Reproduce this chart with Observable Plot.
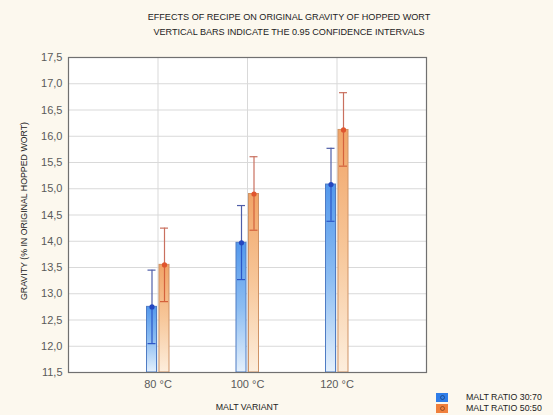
<!DOCTYPE html>
<html>
<head>
<meta charset="utf-8">
<script src="https://cdn.jsdelivr.net/npm/d3@7"></script>
<script src="https://cdn.jsdelivr.net/npm/@observablehq/plot@0.6"></script>
<style>
  html, body { margin: 0; padding: 0; background: #fcf8ee; }
  #wrap { position: relative; width: 553px; height: 415px; font-family: "Liberation Sans", Arial, sans-serif; color: #222; overflow: hidden; }
  .t { position: absolute; white-space: nowrap; }
  .title { left: 289px; transform: translateX(-50%); font-size: 9.1px; }
  .ylab { left: 24px; top: 211px; transform: translate(-50%, -50%) rotate(-90deg); font-size: 8.8px; }
  .xlab { left: 247px; top: 407px; transform: translate(-50%, -50%); font-size: 8.8px; }
  .leg { position: absolute; left: 436px; font-size: 8.8px; display: flex; align-items: center; }
  .sw { width: 12px; height: 9px; margin-right: 18px; position: relative; }
  .sw::after { content: ""; position: absolute; left: 4px; top: 2.5px; width: 3px; height: 3px; border-radius: 50%; border: 1px solid rgba(0,0,0,0.35); }
</style>
</head>
<body>
<div id="wrap"></div>
<script>
const variants = ["80 °C", "100 °C", "120 °C"];
const seriesNames = ["MALT RATIO 30:70", "MALT RATIO 50:50"];
const mean3070 = [12.75, 13.97, 15.08];
const lo3070   = [12.05, 13.27, 14.38];
const hi3070   = [13.45, 14.68, 15.77];
const mean5050 = [13.55, 14.90, 16.12];
const lo5050   = [12.85, 14.21, 15.43];
const hi5050   = [14.25, 15.61, 16.83];
const yTicks = [11.5, 12, 12.5, 13, 13.5, 14, 14.5, 15, 15.5, 16, 16.5, 17, 17.5];

const rows = [];
variants.forEach((v, i) => {
  rows.push({variant: v, idx: i + 1, s: 0, mean: mean3070[i], lo: lo3070[i], hi: hi3070[i]});
  rows.push({variant: v, idx: i + 1, s: 1, mean: mean5050[i], lo: lo5050[i], hi: hi5050[i]});
});
const A = rows.filter(d => d.s === 0), B = rows.filter(d => d.s === 1);

const W = 553, H = 415, mL = 68, mR = 127, mT = 57, mB = 43;
const ppu = (W - mL - mR) / 4; // px per x unit
const u = p => p / ppu;
const off = [-6, 6.5];   // bar centre offsets (px)
const halfW = 5, cap = 4;

const NS = "http://www.w3.org/2000/svg";
function defs() {
  const g = document.createElementNS(NS, "defs");
  const mk = (id, stops) => {
    const lg = document.createElementNS(NS, "linearGradient");
    lg.setAttribute("id", id); lg.setAttribute("x1", "0"); lg.setAttribute("y1", "0");
    lg.setAttribute("x2", "0"); lg.setAttribute("y2", "1");
    stops.forEach(([o, c]) => {
      const s = document.createElementNS(NS, "stop");
      s.setAttribute("offset", o); s.setAttribute("stop-color", c);
      lg.appendChild(s);
    });
    g.appendChild(lg);
  };
  mk("gBlue", [["0", "#5398ec"], ["0.5", "#8cbdf2"], ["1", "#e4f0fc"]]);
  mk("gOrange", [["0", "#f1a467"], ["0.5", "#f7c79a"], ["1", "#fdeedd"]]);
  return g;
}

const errColor = ["#4f5ea8", "#c9705f"];
const midColor = ["#2c56c8", "#d4623c"];
const dotColor = ["#2446c0", "#e0552e"];
const strokeColor = ["#4f7cc4", "#cf9366"];
const grads = ["url(#gBlue)", "url(#gOrange)"];

function seriesMarks(data, s) {
  return [
    Plot.rectY(data, {x1: d => d.idx + u(off[s] - halfW), x2: d => d.idx + u(off[s] + halfW), y1: 11.5, y2: "mean", fill: grads[s], stroke: strokeColor[s], strokeWidth: 1}),
    Plot.ruleX(data, {x: "idx", dx: off[s], y1: "mean", y2: "hi", stroke: errColor[s], strokeWidth: 1.2}),
    Plot.ruleX(data, {x: "idx", dx: off[s], y1: "lo", y2: "mean", stroke: midColor[s], strokeWidth: 1.2}),
    Plot.ruleY(data, {y: "hi", x1: d => d.idx + u(off[s] - cap), x2: d => d.idx + u(off[s] + cap), stroke: errColor[s], strokeWidth: 1.2}),
    Plot.ruleY(data, {y: "lo", x1: d => d.idx + u(off[s] - cap), x2: d => d.idx + u(off[s] + cap), stroke: midColor[s], strokeWidth: 1.2}),
    Plot.dot(data, {x: "idx", dx: off[s], y: "mean", r: 2.6, fill: dotColor[s], stroke: "none"})
  ];
}

const chart = Plot.plot({
  width: W, height: H,
  marginLeft: mL, marginRight: mR, marginTop: mT, marginBottom: mB,
  style: {background: "transparent", fontFamily: "'Liberation Sans', Arial, sans-serif"},
  x: {domain: [0, 4], label: null},
  y: {domain: [11.5, 17.5], label: null},
  marks: [
    defs,
    Plot.frame({fill: "white", stroke: "none"}),
    Plot.gridY(yTicks.slice(1, -1), {stroke: "#d9d9d9", strokeOpacity: 1}),
    Plot.gridX([1, 2, 3], {stroke: "#d9d9d9", strokeOpacity: 1}),
    ...seriesMarks(A, 0),
    ...seriesMarks(B, 1),
    Plot.frame({stroke: "#707070", strokeWidth: 1.2}),
    Plot.axisY({ticks: yTicks, tickSize: 0, tickPadding: 6, fontSize: 11, fill: "#5a5a5a", tickFormat: d => d.toFixed(1).replace(".", ","), label: null}),
    Plot.axisX({ticks: [1, 2, 3], tickSize: 0, tickPadding: 8, fontSize: 11, fill: "#5a5a5a", tickFormat: d => variants[d - 1], label: null})
  ]
});

const wrap = document.getElementById("wrap");
wrap.appendChild(chart);
chart.style.position = "absolute"; chart.style.left = "0"; chart.style.top = "0";

function addText(cls, txt, top) {
  const d = document.createElement("div");
  d.className = "t " + cls; d.textContent = txt;
  if (top != null) d.style.top = top + "px";
  wrap.appendChild(d);
}
addText("title", "EFFECTS OF RECIPE ON ORIGINAL GRAVITY OF HOPPED WORT", 12);
addText("title", "VERTICAL BARS INDICATE THE 0.95 CONFIDENCE INTERVALS", 27);
addText("ylab", "GRAVITY (% IN ORIGINAL HOPPED WORT)");
addText("xlab", "MALT VARIANT");

const swColors = ["#2f7de8", "#f0803c"];
seriesNames.forEach((n, i) => {
  const d = document.createElement("div");
  d.className = "leg";
  d.style.top = (392 + i * 11) + "px";
  const sw = document.createElement("div");
  sw.className = "sw"; sw.style.background = swColors[i];
  d.appendChild(sw);
  const t = document.createElement("span"); t.textContent = n;
  d.appendChild(t);
  wrap.appendChild(d);
});
</script>
</body>
</html>
